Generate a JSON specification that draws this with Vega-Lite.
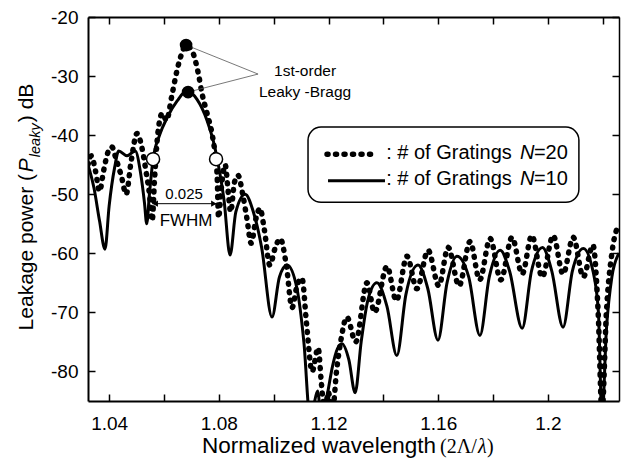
{
 "$schema": "https://vega.github.io/schema/vega-lite/v6.json",
 "width": 531, "height": 384,
 "autosize": {"type": "none"},
 "padding": {"left": 88, "top": 17, "right": 8, "bottom": 62},
 "background": "white",
 "config": {"view": {"stroke": null}, "font": "Liberation Sans", "text": {"font": "Liberation Sans", "color": "black"}},
 "datasets": {
  "n10": [
   {"x":1.0323,"y":-45},{"x":1.0345,"y":-49},{"x":1.0365,"y":-54.5},{"x":1.0385,"y":-59.3},{"x":1.04,"y":-52},{"x":1.042,"y":-45.5},{"x":1.0435,"y":-42.7},{"x":1.0465,"y":-43.5},{"x":1.0495,"y":-42.7},{"x":1.0515,"y":-46.5},{"x":1.0529,"y":-51.5},{"x":1.0537,"y":-55},{"x":1.0547,"y":-50},{"x":1.0559,"y":-44.5},{"x":1.0584,"y":-40},{"x":1.0612,"y":-37},{"x":1.0648,"y":-34.2},{"x":1.0684,"y":-32.5},{"x":1.0721,"y":-34},{"x":1.0757,"y":-37.5},{"x":1.0779,"y":-40.8},{"x":1.0797,"y":-44.7},{"x":1.0819,"y":-51},{"x":1.0841,"y":-60.3},{"x":1.0862,"y":-53},{"x":1.0896,"y":-50},{"x":1.0926,"y":-53},{"x":1.0956,"y":-59},{"x":1.0994,"y":-70.8},{"x":1.1021,"y":-64},{"x":1.1049,"y":-62},{"x":1.1085,"y":-66},{"x":1.111,"y":-75},{"x":1.1133,"y":-88},{"x":1.1145,"y":-86},{"x":1.116,"y":-83.3},{"x":1.1174,"y":-88},{"x":1.1195,"y":-84},{"x":1.1215,"y":-79},{"x":1.1232,"y":-76.2},{"x":1.1249,"y":-75.3},{"x":1.1274,"y":-78},{"x":1.1297,"y":-83.6},{"x":1.1319,"y":-75},{"x":1.1343,"y":-68},{"x":1.1376,"y":-65},{"x":1.1413,"y":-69},{"x":1.1449,"y":-77.3},{"x":1.1482,"y":-67},{"x":1.1526,"y":-62},{"x":1.1562,"y":-66},{"x":1.1599,"y":-74.7},{"x":1.1632,"y":-65},{"x":1.1668,"y":-60.5},{"x":1.1711,"y":-64},{"x":1.1752,"y":-73.9},{"x":1.1786,"y":-64},{"x":1.1826,"y":-59.5},{"x":1.186,"y":-63},{"x":1.1906,"y":-72.7},{"x":1.194,"y":-63},{"x":1.198,"y":-59},{"x":1.2014,"y":-63},{"x":1.2055,"y":-72.5},{"x":1.2089,"y":-63},{"x":1.2129,"y":-59.2},{"x":1.2164,"y":-63},{"x":1.2184,"y":-70},{"x":1.2197,"y":-88},{"x":1.2213,"y":-73},{"x":1.2233,"y":-64},{"x":1.2259,"y":-60}
  ],
  "n20": [
   {"x":1.0323,"y":-45},{"x":1.0335,"y":-43.5},{"x":1.035,"y":-46},{"x":1.0365,"y":-49.5},{"x":1.038,"y":-46},{"x":1.0395,"y":-43},{"x":1.041,"y":-42},{"x":1.0425,"y":-44},{"x":1.0445,"y":-47},{"x":1.0462,"y":-50},{"x":1.048,"y":-44.5},{"x":1.0502,"y":-39.7},{"x":1.0519,"y":-42},{"x":1.0534,"y":-46},{"x":1.0547,"y":-50},{"x":1.0557,"y":-54.5},{"x":1.0565,"y":-48},{"x":1.0577,"y":-40},{"x":1.0594,"y":-36.3},{"x":1.0609,"y":-37.5},{"x":1.0628,"y":-33.5},{"x":1.0643,"y":-30},{"x":1.0659,"y":-27},{"x":1.0681,"y":-24.8},{"x":1.0703,"y":-25.8},{"x":1.0725,"y":-29.5},{"x":1.0739,"y":-33},{"x":1.0757,"y":-36.3},{"x":1.0775,"y":-39.7},{"x":1.0786,"y":-43},{"x":1.0794,"y":-47},{"x":1.0799,"y":-54},{"x":1.0809,"y":-49},{"x":1.0823,"y":-45},{"x":1.0835,"y":-50},{"x":1.0843,"y":-53},{"x":1.0857,"y":-48},{"x":1.087,"y":-46.8},{"x":1.0887,"y":-50},{"x":1.0902,"y":-54},{"x":1.0918,"y":-58.3},{"x":1.0936,"y":-54},{"x":1.095,"y":-52.4},{"x":1.0966,"y":-56},{"x":1.0986,"y":-62},{"x":1.1006,"y":-59},{"x":1.1024,"y":-57.5},{"x":1.1046,"y":-62},{"x":1.1067,"y":-69.2},{"x":1.1085,"y":-65.5},{"x":1.1103,"y":-64.2},{"x":1.112,"y":-72},{"x":1.114,"y":-80},{"x":1.1162,"y":-76},{"x":1.1174,"y":-82},{"x":1.1186,"y":-87},{"x":1.1199,"y":-83.5},{"x":1.1214,"y":-87},{"x":1.1229,"y":-80},{"x":1.1244,"y":-75},{"x":1.1267,"y":-70.8},{"x":1.1299,"y":-75},{"x":1.134,"y":-65},{"x":1.1368,"y":-70},{"x":1.1413,"y":-62.2},{"x":1.1447,"y":-68},{"x":1.1486,"y":-60.5},{"x":1.1522,"y":-66},{"x":1.1563,"y":-59.5},{"x":1.1602,"y":-65.5},{"x":1.1636,"y":-59},{"x":1.1676,"y":-65.5},{"x":1.1716,"y":-58},{"x":1.1751,"y":-64.5},{"x":1.1789,"y":-57.5},{"x":1.1828,"y":-64.5},{"x":1.1869,"y":-57.3},{"x":1.1906,"y":-63.5},{"x":1.1941,"y":-57},{"x":1.1979,"y":-64},{"x":1.2019,"y":-57},{"x":1.2055,"y":-63.5},{"x":1.2092,"y":-57.3},{"x":1.2129,"y":-64},{"x":1.2164,"y":-58.6},{"x":1.2183,"y":-70},{"x":1.2197,"y":-87},{"x":1.2213,"y":-70},{"x":1.2233,"y":-60},{"x":1.2259,"y":-55}
  ]
 },
 "resolve": {"axis": {"x": "independent", "y": "independent"}},
 "layer": [
  {
   "data": {"name": "n10"},
   "mark": {"type": "line", "color": "black", "strokeWidth": 3, "interpolate": "monotone", "clip": true},
   "encoding": {
    "x": {"field": "x", "type": "quantitative", "scale": {"domain": [1.0323, 1.2259], "nice": false, "zero": false},
      "axis": {"orient": "bottom", "values": [1.04,1.06,1.08,1.1,1.12,1.14,1.16,1.18,1.2,1.22], "labelExpr": "indexof([1.04,1.08,1.12,1.16,1.2], datum.value) >= 0 ? '' + datum.value : ''", "tickSize": -7, "tickWidth": 1.5, "tickColor": "black", "domainWidth": 2, "domainColor": "black", "labelFontSize": 19, "labelFont": "Liberation Sans", "labelColor": "black", "labelPadding": 20, "grid": false, "title": null, "labelFlush": false, "labelOverlap": false}},
    "y": {"field": "y", "type": "quantitative", "scale": {"domain": [-85, -20], "nice": false, "zero": false},
      "axis": {"orient": "left", "values": [-20,-30,-40,-50,-60,-70,-80], "labelExpr": "'' + datum.value", "tickSize": -7, "tickWidth": 1.5, "tickColor": "black", "domainWidth": 2, "domainColor": "black", "labelFontSize": 19, "labelFont": "Liberation Sans", "labelColor": "black", "labelPadding": 17, "grid": false, "title": null, "labelFlush": false, "labelOverlap": false}}
   }
  },
  {
   "data": {"name": "n20"},
   "mark": {"type": "line", "color": "black", "strokeWidth": 5.5, "strokeDash": [1, 7.5], "strokeCap": "round", "interpolate": "monotone", "clip": true},
   "encoding": {
    "x": {"field": "x", "type": "quantitative", "scale": {"domain": [1.0323, 1.2259], "nice": false, "zero": false},
      "axis": {"orient": "top", "values": [1.04,1.06,1.08,1.1,1.12,1.14,1.16,1.18,1.2,1.22], "labels": false, "tickSize": -7, "tickWidth": 1.5, "tickColor": "black", "domainWidth": 2, "domainColor": "black", "grid": false, "title": null}},
    "y": {"field": "y", "type": "quantitative", "scale": {"domain": [-85, -20], "nice": false, "zero": false},
      "axis": {"orient": "right", "values": [-20,-30,-40,-50,-60,-70,-80], "labels": false, "tickSize": -7, "tickWidth": 1.5, "tickColor": "black", "domainWidth": 1.5, "domainColor": "black", "grid": false, "title": null}}
   }
  },
  {
   "data": {"values": [{"x": 1.06806, "y": -24.75, "x2": 1.0943, "y2": -29.66}, {"x": 1.06879, "y": -32.71, "x2": 1.0943, "y2": -29.66}]},
   "mark": {"type": "rule", "color": "#555555", "strokeWidth": 0.8},
   "encoding": {
    "x": {"field": "x", "type": "quantitative", "axis": null},
    "y": {"field": "y", "type": "quantitative", "axis": null},
    "x2": {"field": "x2"}, "y2": {"field": "y2"}
   }
  },
  {
   "data": {"values": [{"x": 1.06806, "y": -24.75}, {"x": 1.06879, "y": -32.71}]},
   "mark": {"type": "point", "filled": true, "color": "black", "size": 160, "opacity": 1},
   "encoding": {
    "x": {"field": "x", "type": "quantitative", "axis": null},
    "y": {"field": "y", "type": "quantitative", "axis": null}
   }
  },
  {
   "data": {"values": [{"x": 1.05603, "y": -44.07}, {"x": 1.07899, "y": -44.07}]},
   "mark": {"type": "point", "filled": true, "fill": "white", "stroke": "black", "strokeWidth": 1.5, "size": 170, "opacity": 1},
   "encoding": {
    "x": {"field": "x", "type": "quantitative", "axis": null},
    "y": {"field": "y", "type": "quantitative", "axis": null}
   }
  },
  {
   "data": {"values": [{"x": 1.05567, "y": -51.6, "x2": 1.07936}]},
   "mark": {"type": "rule", "color": "black", "strokeWidth": 1},
   "encoding": {
    "x": {"field": "x", "type": "quantitative", "axis": null},
    "y": {"field": "y", "type": "quantitative", "axis": null},
    "x2": {"field": "x2"}
   }
  },
  {
   "data": {"values": [{"x": 1.0568, "y": -51.6}]},
   "mark": {"type": "point", "shape": "triangle-left", "filled": true, "color": "black", "size": 40, "opacity": 1},
   "encoding": {
    "x": {"field": "x", "type": "quantitative", "axis": null},
    "y": {"field": "y", "type": "quantitative", "axis": null}
   }
  },
  {
   "data": {"values": [{"x": 1.0782, "y": -51.6}]},
   "mark": {"type": "point", "shape": "triangle-right", "filled": true, "color": "black", "size": 40, "opacity": 1},
   "encoding": {
    "x": {"field": "x", "type": "quantitative", "axis": null},
    "y": {"field": "y", "type": "quantitative", "axis": null}
   }
  },
  {
   "data": {"values": [{"x": 1.06733, "y": -49.9, "t": "0.025"}]},
   "mark": {"type": "text", "fontSize": 15, "align": "center", "baseline": "middle"},
   "encoding": {
    "x": {"field": "x", "type": "quantitative", "axis": null},
    "y": {"field": "y", "type": "quantitative", "axis": null},
    "text": {"field": "t"}
   }
  },
  {
   "data": {"values": [{"x": 1.06806, "y": -54.6, "t": "FWHM"}]},
   "mark": {"type": "text", "fontSize": 17, "align": "center", "baseline": "middle"},
   "encoding": {
    "x": {"field": "x", "type": "quantitative", "axis": null},
    "y": {"field": "y", "type": "quantitative", "axis": null},
    "text": {"field": "t"}
   }
  },
  {
   "data": {"values": [{"x": 1.11143, "y": -29.15, "t": "1st-order"}, {"x": 1.11143, "y": -32.71, "t": "Leaky -Bragg"}]},
   "mark": {"type": "text", "fontSize": 15.5, "align": "center", "baseline": "middle"},
   "encoding": {
    "x": {"field": "x", "type": "quantitative", "axis": null},
    "y": {"field": "y", "type": "quantitative", "axis": null},
    "text": {"field": "t"}
   }
  },
  {
   "data": {"values": [{"x": 1.11252, "x2": 1.21128, "y": -38.64, "y2": -51.36}]},
   "mark": {"type": "rect", "fill": "white", "stroke": "black", "strokeWidth": 1.5, "cornerRadius": 13},
   "encoding": {
    "x": {"field": "x", "type": "quantitative", "axis": null},
    "y": {"field": "y", "type": "quantitative", "axis": null},
    "x2": {"field": "x2"}, "y2": {"field": "y2"}
   }
  },
  {
   "data": {"values": [{"x": 1.11945, "y": -43.22}, {"x": 1.13803, "y": -43.22}]},
   "mark": {"type": "line", "color": "black", "strokeWidth": 5.5, "strokeDash": [1, 7.5], "strokeCap": "round"},
   "encoding": {
    "x": {"field": "x", "type": "quantitative", "axis": null},
    "y": {"field": "y", "type": "quantitative", "axis": null}
   }
  },
  {
   "data": {"values": [{"x": 1.11981, "y": -47.7}, {"x": 1.14058, "y": -47.7}]},
   "mark": {"type": "line", "color": "black", "strokeWidth": 3},
   "encoding": {
    "x": {"field": "x", "type": "quantitative", "axis": null},
    "y": {"field": "y", "type": "quantitative", "axis": null}
   }
  },
  {
   "data": {"values": [{"x": 1.1639, "y": -42.97, "t": ": # of Gratings"}, {"x": 1.1639, "y": -47.46, "t": ": # of Gratings"}]},
   "mark": {"type": "text", "fontSize": 20, "align": "center", "baseline": "middle"},
   "encoding": {
    "x": {"field": "x", "type": "quantitative", "axis": null},
    "y": {"field": "y", "type": "quantitative", "axis": null},
    "text": {"field": "t"}
   }
  },
  {
   "data": {"values": [{"x": 1.18978, "y": -42.97, "t": "N"}, {"x": 1.18978, "y": -47.46, "t": "N"}]},
   "mark": {"type": "text", "fontSize": 20, "fontStyle": "italic", "align": "left", "baseline": "middle"},
   "encoding": {
    "x": {"field": "x", "type": "quantitative", "axis": null},
    "y": {"field": "y", "type": "quantitative", "axis": null},
    "text": {"field": "t"}
   }
  },
  {
   "data": {"values": [{"x": 1.19488, "y": -42.97, "t": "=20"}, {"x": 1.19488, "y": -47.46, "t": "=10"}]},
   "mark": {"type": "text", "fontSize": 20, "align": "left", "baseline": "middle"},
   "encoding": {
    "x": {"field": "x", "type": "quantitative", "axis": null},
    "y": {"field": "y", "type": "quantitative", "axis": null},
    "text": {"field": "t"}
   }
  },
  {
   "data": {"values": [{"x": 1.0123, "y": -73.05, "t": "Leakage power ("}, {"x": 1.0123, "y": -37.8, "t": ") dB"}]},
   "mark": {"type": "text", "fontSize": 21, "angle": 270, "align": "left", "baseline": "alphabetic"},
   "encoding": {
    "x": {"field": "x", "type": "quantitative", "axis": null},
    "y": {"field": "y", "type": "quantitative", "axis": null},
    "text": {"field": "t"}
   }
  },
  {
   "data": {"values": [{"x": 1.0123, "y": -46.27, "t": "P"}]},
   "mark": {"type": "text", "fontSize": 21, "fontStyle": "italic", "angle": 270, "align": "left", "baseline": "alphabetic"},
   "encoding": {
    "x": {"field": "x", "type": "quantitative", "axis": null},
    "y": {"field": "y", "type": "quantitative", "axis": null},
    "text": {"field": "t"}
   }
  },
  {
   "data": {"values": [{"x": 1.01485, "y": -43.73, "t": "leaky"}]},
   "mark": {"type": "text", "fontSize": 14.5, "fontStyle": "italic", "angle": 270, "align": "left", "baseline": "alphabetic"},
   "encoding": {
    "x": {"field": "x", "type": "quantitative", "axis": null},
    "y": {"field": "y", "type": "quantitative", "axis": null},
    "text": {"field": "t"}
   }
  },
  {
   "data": {"values": [{"x": 1.07389, "y": -93.73, "t": "Normalized wavelength"}]},
   "mark": {"type": "text", "fontSize": 22.5, "align": "left", "baseline": "alphabetic"},
   "encoding": {
    "x": {"field": "x", "type": "quantitative", "axis": null},
    "y": {"field": "y", "type": "quantitative", "axis": null},
    "text": {"field": "t"}
   }
  },
  {
   "data": {"values": [{"x": 1.16063, "y": -93.73, "t": "(2Λ/"}, {"x": 1.17776, "y": -93.73, "t": ")"}]},
   "mark": {"type": "text", "font": "Liberation Serif", "fontSize": 20, "align": "left", "baseline": "alphabetic"},
   "encoding": {
    "x": {"field": "x", "type": "quantitative", "axis": null},
    "y": {"field": "y", "type": "quantitative", "axis": null},
    "text": {"field": "t"}
   }
  },
  {
   "data": {"values": [{"x": 1.17448, "y": -93.73, "t": "λ"}]},
   "mark": {"type": "text", "font": "Liberation Serif", "fontSize": 20, "fontStyle": "italic", "align": "left", "baseline": "alphabetic"},
   "encoding": {
    "x": {"field": "x", "type": "quantitative", "axis": null},
    "y": {"field": "y", "type": "quantitative", "axis": null},
    "text": {"field": "t"}
   }
  }
 ]
}
